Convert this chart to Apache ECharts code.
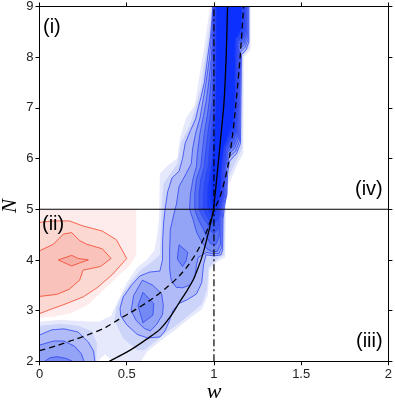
<!DOCTYPE html>
<html><head><meta charset="utf-8">
<script src="https://cdn.jsdelivr.net/npm/echarts/dist/echarts.min.js"></script>
<style>html,body{margin:0;padding:0;background:#fff;}#c{width:395px;height:402px;}</style>
</head><body><div id="c"></div>
<script>
// ---- axes ----
const xMin = 0, xMax = 2, xStep = 0.5;
const yMin = 2, yMax = 9, yStep = 1;
const regionLabels = ['(i)', '(ii)', '(iii)', '(iv)'];
const xName = 'w', yName = 'N';

// ---- red density (w, N) ----
const pinkBg = [[0,2.87],[0,5.0],[0.555,5.0],[0.555,4.1],[0.52,3.9],[0.44,3.65],[0.36,3.38],[0.28,3.12],[0.18,2.95],[0.08,2.88]];
const red1 = [[0,4.74],[0.08,4.77],[0.17,4.77],[0.25,4.67],[0.36,4.57],[0.44,4.4],[0.5,4.03],[0.42,3.72],[0.33,3.45],[0.25,3.27],[0.14,3.12],[0.06,3.02],[0,2.94]];
const red2 = [[0,4.18],[0.08,4.31],[0.136,4.51],[0.184,4.54],[0.231,4.38],[0.27,4.31],[0.36,4.22],[0.41,4.03],[0.35,3.87],[0.25,3.8],[0.23,3.6],[0.17,3.42],[0.1,3.32],[0,3.28]];
const red3 = [[0.108,4.0],[0.184,4.09],[0.222,4.03],[0.28,4.0],[0.222,3.93],[0.184,3.88]];

// ---- blue density contours (w, N) ----
const blueL1 = [[0,2.0],[0,2.78],[0.12,2.82],[0.25,2.79],[0.34,2.78],[0.41,2.9],[0.45,3.2],[0.5,3.55],[0.56,3.85],[0.62,4.02],[0.66,4.2],[0.675,4.5],[0.685,4.8],[0.69,5.7],[0.74,5.88],[0.79,6.0],[0.805,6.4],[0.84,6.8],[0.89,7.05],[0.915,7.6],[0.94,8.1],[0.965,8.7],[0.98,9],[1.21,9],[1.21,8.15],[1.172,8.0],[1.168,6.1],[1.13,5.85],[1.1,5.6],[1.07,5.4],[1.065,4.05],[1.02,3.97],[0.975,3.8],[0.965,3.3],[0.93,3.02],[0.86,2.85],[0.78,2.62],[0.7,2.42],[0.62,2.2],[0.58,2.0],[0.42,2.0],[0.375,2.14],[0.335,2.0]];
const blueL2a = [[0,2.0],[0,2.7],[0.12,2.74],[0.22,2.7],[0.3,2.6],[0.33,2.35],[0.325,2.0]];
const blueL2b = [[0.56,2.22],[0.48,2.45],[0.43,2.8],[0.44,3.05],[0.48,3.35],[0.53,3.6],[0.58,3.8],[0.64,3.95],[0.69,4.1],[0.695,4.5],[0.7,5.0],[0.71,5.5],[0.77,5.8],[0.79,5.9],[0.81,6.3],[0.86,6.65],[0.89,6.95],[0.925,7.4],[0.95,8.0],[0.975,8.6],[0.988,9],[1.205,9],[1.205,8.2],[1.166,8.02],[1.162,6.2],[1.12,5.9],[1.088,5.65],[1.065,5.4],[1.06,4.1],[1.02,4.02],[0.97,3.85],[0.96,3.4],[0.93,3.12],[0.87,2.95],[0.8,2.75],[0.74,2.6],[0.66,2.38],[0.6,2.22]];
const blueM1 = [[0.62,2.46],[0.56,2.53],[0.5,2.72],[0.465,2.9],[0.462,3.05],[0.48,3.27],[0.527,3.5],[0.574,3.68],[0.63,3.76],[0.69,3.78],[0.705,4.0],[0.706,4.4],[0.712,4.75],[0.72,5.0],[0.735,5.35],[0.76,5.62],[0.8,5.75],[0.82,6.0],[0.835,6.3],[0.865,6.55],[0.895,6.78],[0.91,7.0],[0.925,7.2],[0.945,7.5],[0.962,7.95],[0.98,8.4],[0.99,8.8],[0.993,9.0],[1.2,9.0],[1.2,8.3],[1.185,8.15],[1.158,8.05],[1.155,7.2],[1.152,6.3],[1.13,6.1],[1.09,5.95],[1.078,5.7],[1.075,5.3],[1.06,5.05],[1.052,4.8],[1.05,4.2],[1.04,4.1],[1.0,4.08],[0.955,4.1],[0.94,3.9],[0.93,3.55],[0.9,3.33],[0.85,3.22],[0.8,3.14],[0.765,3.0],[0.745,2.8],[0.72,2.6],[0.69,2.48]];
const blueA1 = [[0.317,2.0],[0.31,2.2],[0.28,2.38],[0.22,2.58],[0.14,2.64],[0.07,2.62],[0,2.52],[0,2.0]];
const blueA2 = [[0.255,2.0],[0.24,2.15],[0.2,2.3],[0.14,2.4],[0.08,2.4],[0,2.32],[0,2.0]];
const blueA3 = [[0.19,2.0],[0.15,2.06],[0.1,2.09],[0.06,2.07],[0.03,2.0]];
const blueB1 = [[0.59,3.6],[0.65,3.5],[0.7,3.33],[0.71,3.1],[0.705,2.92],[0.67,2.72],[0.635,2.6],[0.6,2.65],[0.555,2.8],[0.525,3.0],[0.54,3.3]];
const blueB2 = [[0.593,3.36],[0.655,3.14],[0.65,2.91],[0.593,2.76],[0.565,3.1]];
const blueC1 = [[0.784,3.46],[0.755,3.6],[0.746,3.82],[0.746,4.2],[0.75,4.6],[0.77,4.9],[0.785,5.1],[0.8,5.45],[0.84,5.7],[0.87,5.9],[0.878,6.2],[0.895,6.5],[0.92,6.8],[0.935,7.1],[0.955,7.5],[0.975,8.0],[0.99,8.6],[0.996,9.0],[1.195,9.0],[1.195,8.35],[1.18,8.2],[1.153,8.1],[1.15,7.2],[1.147,6.35],[1.125,6.15],[1.085,6.02],[1.072,5.75],[1.07,5.3],[1.054,5.05],[1.047,4.8],[1.045,4.25],[1.03,4.13],[0.99,4.12],[0.96,4.15],[0.91,4.05],[0.9,3.9],[0.89,3.65],[0.86,3.5],[0.82,3.45]];
const blueC2 = [[0.80,4.3],[0.85,4.15],[0.84,3.98],[0.82,3.87],[0.79,4.02]];
const blueS2 = [[0.9,4.55],[0.88,4.8],[0.86,5.0],[0.865,5.3],[0.88,5.6],[0.9,5.85],[0.905,6.1],[0.92,6.5],[0.94,6.85],[0.955,7.12],[0.97,7.5],[0.985,8.0],[0.995,8.6],[1.0,9.0],[1.19,9.0],[1.19,8.4],[1.175,8.25],[1.148,8.15],[1.146,7.2],[1.142,6.4],[1.118,6.2],[1.082,6.08],[1.066,5.8],[1.064,5.3],[1.048,5.05],[1.04,4.8],[1.037,4.3],[1.02,4.17],[0.99,4.16],[0.96,4.22],[0.93,4.35]];
const blueS3 = [[0.94,4.6],[0.91,4.8],[0.89,5.0],[0.89,5.3],[0.9,5.6],[0.925,5.85],[0.932,6.1],[0.945,6.5],[0.962,6.85],[0.973,7.12],[0.985,7.6],[0.993,8.2],[1.002,9.0],[1.185,9.0],[1.185,8.45],[1.17,8.3],[1.143,8.2],[1.142,7.2],[1.137,6.45],[1.11,6.25],[1.078,6.12],[1.062,5.8],[1.058,5.3],[1.043,5.05],[1.034,4.8],[1.029,4.45],[1.01,4.3],[0.98,4.32],[0.96,4.45]];
const blueS4 = [[0.965,4.7],[0.935,4.85],[0.915,5.0],[0.915,5.3],[0.925,5.6],[0.945,5.85],[0.952,6.1],[0.965,6.5],[0.98,6.85],[0.99,7.12],[0.997,7.8],[1.004,9.0],[1.18,9.0],[1.18,8.5],[1.165,8.35],[1.138,8.25],[1.137,7.2],[1.131,6.5],[1.1,6.3],[1.072,6.15],[1.057,5.8],[1.053,5.3],[1.038,5.05],[1.029,4.85],[1.021,4.6],[1.0,4.52],[0.98,4.58]];
const blueS5 = [[0.985,4.75],[0.96,4.85],[0.94,5.0],[0.94,5.3],[0.95,5.6],[0.966,5.85],[0.972,6.1],[0.985,6.5],[0.996,6.85],[1.002,7.2],[1.006,9.0],[1.175,9.0],[1.175,8.55],[1.16,8.4],[1.133,8.3],[1.132,7.2],[1.125,6.55],[1.092,6.35],[1.066,6.2],[1.052,5.8],[1.048,5.3],[1.033,5.05],[1.022,4.8],[1.0,4.72]];
const blueS6 = [[0.99,4.85],[0.97,4.95],[0.96,5.1],[0.962,5.4],[0.975,5.7],[0.988,6.0],[0.998,6.5],[1.006,7.0],[1.01,9.0],[1.165,9.0],[1.165,8.6],[1.15,8.45],[1.128,8.35],[1.126,7.2],[1.118,6.6],[1.085,6.4],[1.06,6.2],[1.046,5.8],[1.042,5.3],[1.025,5.0],[1.005,4.88]];
const blueS7 = [[0.99,5.05],[0.98,5.2],[0.985,5.5],[0.995,6.0],[1.005,6.5],[1.012,7.0],[1.015,9.0],[1.155,9.0],[1.155,8.6],[1.14,8.45],[1.12,8.35],[1.118,7.2],[1.108,6.7],[1.078,6.45],[1.053,6.2],[1.04,5.8],[1.036,5.3],[1.015,5.08]];

// ---- reference curves (w, N) ----
const solidCurve = [[0.40,2.0],[0.52,2.22],[0.62,2.45],[0.69,2.63],[0.75,2.88],[0.8,3.15],[0.85,3.42],[0.88,3.6],[0.91,3.85],[0.935,4.1],[0.962,4.45],[0.983,4.75],[0.997,5.0],[1.01,5.4],[1.022,5.82],[1.04,6.45],[1.058,7.12],[1.07,8.0],[1.078,9.0]];
const dashedCurve = [[0,2.21],[0.1,2.31],[0.193,2.42],[0.29,2.54],[0.38,2.67],[0.46,2.84],[0.536,2.99],[0.64,3.22],[0.727,3.45],[0.8,3.68],[0.86,3.93],[0.917,4.25],[0.96,4.58],[0.99,4.88],[1.01,5.05],[1.04,5.3],[1.08,5.85],[1.107,6.47],[1.127,7.12],[1.15,8.0],[1.17,9.0]];
const dashDotLine = [[1,2],[1,9]];
const divider = [[0,5],[2,5]];

// ---- styling ----
const blueLevels = ['#e6e9fc','#cdd4fa','#b0bbf7','#93a3f5','#7389f3','#5670f3','#3d5bf5','#2a4bf8','#1a3dfb','#0c31fe'];
const pinkLevels = ['#fdeceb','#fcd8d3','#f9c2ba','#f7afa5'];
const fillList = [
  [pinkBg, pinkLevels[0]], [red1, pinkLevels[1]], [red2, pinkLevels[2]], [red3, pinkLevels[3]],
  [blueL1, blueLevels[0]], [blueL2a, blueLevels[1]], [blueL2b, blueLevels[1]],
  [blueM1, blueLevels[2]], [blueA1, blueLevels[2]],
  [blueC1, blueLevels[3]], [blueB1, blueLevels[3]], [blueA2, blueLevels[3]],
  [blueS2, blueLevels[4]], [blueB2, blueLevels[4]], [blueC2, blueLevels[4]], [blueA3, blueLevels[4]],
  [blueS3, blueLevels[5]], [blueS4, blueLevels[6]], [blueS5, blueLevels[7]], [blueS6, blueLevels[8]], [blueS7, blueLevels[9]]
];
const redLine = '#f2452b', blueLine = '#2f44f2';
const lineList = [
  [red1, redLine, false], [red2, redLine, false], [red3, redLine, true],
  [blueM1, blueLine, true], [blueA1, blueLine, false], [blueA2, blueLine, false], [blueA3, blueLine, false],
  [blueB1, blueLine, true], [blueB2, blueLine, true], [blueC1, blueLine, true], [blueC2, blueLine, true],
  [blueS2, blueLine, true], [blueS3, blueLine, true], [blueS4, blueLine, true], [blueS5, blueLine, true], [blueS6, blueLine, true]
];

const chart = echarts.init(document.getElementById('c'), null, {renderer: 'canvas'});
const axisCommon = {
  z: 10,
  axisLine: {show: true, onZero: false, lineStyle: {color: '#000', width: 1}},
  axisTick: {show: true, inside: false, length: 4, lineStyle: {color: '#000', width: 1}},
  splitLine: {show: false}
};
const labelFont = {fontFamily: 'Liberation Sans', fontSize: 13, color: '#222'};
const txt = (t, x, y, font, align, rot) => ({type: 'text', x: x, y: y, rotation: rot || 0, z: 20,
  style: {text: t, font: font, fill: '#000', align: align, verticalAlign: 'middle', textAlign: align, textVerticalAlign: 'middle'}});

chart.setOption({
  animation: false,
  backgroundColor: '#fff',
  grid: {left: 39.5, top: 5, width: 350.5, height: 356.3, containLabel: false},
  xAxis: [
    Object.assign({}, axisCommon, {type: 'value', position: 'bottom', min: xMin, max: xMax, interval: xStep,
      axisLabel: Object.assign({show: true, margin: 7}, labelFont)}),
    Object.assign({}, axisCommon, {type: 'value', position: 'top', min: xMin, max: xMax, interval: xStep,
      axisLabel: {show: false}})
  ],
  yAxis: [
    Object.assign({}, axisCommon, {type: 'value', position: 'left', min: yMin, max: yMax, interval: yStep,
      axisLabel: Object.assign({show: true, margin: 6}, labelFont)}),
    Object.assign({}, axisCommon, {type: 'value', position: 'right', min: yMin, max: yMax, interval: yStep,
      axisLabel: {show: false}})
  ],
  graphic: [
    txt(regionLabels[0], 43, 27, '20px "Liberation Sans"', 'left'),
    txt(regionLabels[1], 42, 224, '20px "Liberation Sans"', 'left'),
    txt(regionLabels[2], 356, 341, '20px "Liberation Sans"', 'left'),
    txt(regionLabels[3], 355, 189, '20px "Liberation Sans"', 'left'),
    txt(xName, 214, 392, 'italic 22px "Liberation Serif"', 'center'),
    txt(yName, 10, 206, 'italic 21px "Liberation Serif"', 'center', Math.PI / 2)
  ],
  series: [
    {
      type: 'custom', coordinateSystem: 'cartesian2d', clip: true, silent: true, z: 1,
      data: fillList.map((f, i) => [f[0][0][0], f[0][0][1], i]),
      encode: {x: 0, y: 1},
      renderItem: function (params, api) {
        const f = fillList[api.value(2)];
        return {type: 'polygon', z2: api.value(2), shape: {points: f[0].map(p => api.coord(p))}, style: {fill: f[1], stroke: null}};
      }
    },
    {
      type: 'custom', coordinateSystem: 'cartesian2d', clip: true, silent: true, z: 2,
      data: lineList.map((f, i) => [f[0][0][0], f[0][0][1], i]),
      encode: {x: 0, y: 1},
      renderItem: function (params, api) {
        const f = lineList[api.value(2)];
        let pts = f[0].map(p => api.coord(p));
        if (f[2]) pts = pts.concat([pts[0]]);
        return {type: 'polyline', shape: {points: pts}, style: {fill: null, stroke: f[1], lineWidth: 0.8}};
      }
    },
    {type: 'line', data: divider, showSymbol: false, symbol: 'none', z: 5, silent: true, lineStyle: {color: '#000', width: 1.2, type: 'solid'}},
    {type: 'line', data: dashDotLine, showSymbol: false, symbol: 'none', z: 5, silent: true, lineStyle: {color: '#000', width: 1.2, type: [7, 3, 2, 3]}},
    {type: 'line', data: solidCurve, showSymbol: false, symbol: 'none', z: 5, silent: true, smooth: 0.3, clip: true, lineStyle: {color: '#000', width: 1.3, type: 'solid'}},
    {type: 'line', data: dashedCurve, showSymbol: false, symbol: 'none', z: 5, silent: true, smooth: 0.3, clip: true, lineStyle: {color: '#000', width: 1.3, type: [6, 4]}}
  ]
});
</script></body></html>
